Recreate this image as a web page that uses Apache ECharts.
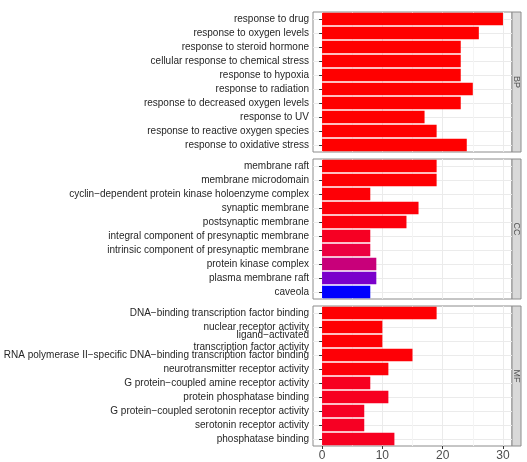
<!DOCTYPE html>
<html lang="en">
<head>
    <meta charset="UTF-8">
    <title>GO enrichment</title>
    <script src="https://cdn.jsdelivr.net/npm/echarts@6/dist/echarts.min.js"></script>
    <style>
        html, body { margin: 0; padding: 0; background: #fff; }
        #chart { width: 527px; height: 462px; }
    </style>
</head>
<body>
<div id="chart"></div>

<script type="text/javascript">
    // BP
    var bpTerms = ['response to drug', 'response to oxygen levels', 'response to steroid hormone',
        'cellular response to chemical stress', 'response to hypoxia', 'response to radiation',
        'response to decreased oxygen levels', 'response to UV', 'response to reactive oxygen species',
        'response to oxidative stress'];
    var bpCounts = [30, 26, 23, 23, 23, 25, 23, 17, 19, 24];
    var bpPadj = [0.00001, 0.00001, 0.00001, 0.00001, 0.00001, 0.00001, 0.00001, 0.00001, 0.00001, 0.00001];

    // CC
    var ccTerms = ['membrane raft', 'membrane microdomain', 'cyclin\u2212dependent protein kinase holoenzyme complex',
        'synaptic membrane', 'postsynaptic membrane', 'integral component of presynaptic membrane',
        'intrinsic component of presynaptic membrane', 'protein kinase complex', 'plasma membrane raft', 'caveola'];
    var ccCounts = [19, 19, 8, 16, 14, 8, 8, 9, 9, 8];
    var ccPadj = [0.0001, 0.0001, 0.0002, 0.0003, 0.0004, 0.0012, 0.0022, 0.004, 0.0061, 0.008];

    // MF
    var mfTerms = ['DNA\u2212binding transcription factor binding', 'nuclear receptor activity',
        'ligand\u2212activated\ntranscription factor activity',
        'RNA polymerase II\u2212specific DNA\u2212binding transcription factor binding',
        'neurotransmitter receptor activity', 'G protein\u2212coupled amine receptor activity',
        'protein phosphatase binding', 'G protein\u2212coupled serotonin receptor activity',
        'serotonin receptor activity', 'phosphatase binding'];
    var mfCounts = [19, 10, 10, 15, 11, 8, 11, 7, 7, 12];
    var mfPadj = [0.0001, 0.0001, 0.0001, 0.0002, 0.0003, 0.0011, 0.0011, 0.0012, 0.0012, 0.0011];

    var xTicks = [0, 10, 20, 30];
    var stripLabels = ['BP', 'CC', 'MF'];

    var FONT = '"Liberation Sans", Arial, sans-serif';
    var panelLeft = 313, panelWidth = 199, panelHeight = 140;
    var panelTops = [12, 159, 306];

    var panels = [
        {terms: bpTerms, counts: bpCounts, padj: bpPadj},
        {terms: ccTerms, counts: ccCounts, padj: ccPadj},
        {terms: mfTerms, counts: mfCounts, padj: mfPadj}
    ];

    var grids = [], xAxes = [], yAxes = [], series = [], graphics = [];

    panels.forEach(function (p, i) {
        var last = i === panels.length - 1;
        grids.push({
            left: panelLeft, top: panelTops[i], width: panelWidth, height: panelHeight,
            show: true, backgroundColor: '#fff', borderColor: '#8c8c8c', borderWidth: 1,
            outerBoundsMode: 'none', containLabel: false
        });
        xAxes.push({
            type: 'value', gridIndex: i, min: -1.5, max: 31.5,
            splitNumber: 3, minInterval: 10, maxInterval: 10,
            axisLine: {show: false},
            axisTick: {show: last, length: 3, customValues: xTicks, lineStyle: {color: '#333'}},
            axisLabel: {
                show: last, fontSize: 12, color: '#4d4d4d', fontFamily: FONT, margin: 4,
                customValues: xTicks
            },
            splitLine: {show: true, lineStyle: {color: '#ebebeb', width: 1}},
            minorTick: {show: false, splitNumber: 2},
            minorSplitLine: {show: true, lineStyle: {color: '#f4f4f4', width: 1}}
        });
        yAxes.push({
            type: 'category', gridIndex: i, data: p.terms, inverse: true,
            axisLine: {show: false},
            axisTick: {show: true, alignWithLabel: true, length: 3, lineStyle: {color: '#333'}},
            axisLabel: {interval: 0, fontSize: 10, color: '#262626', fontFamily: FONT, margin: 4, lineHeight: 12},
            splitLine: {show: true, alignWithLabel: true, lineStyle: {color: '#ebebeb', width: 1}}
        });
        series.push({
            type: 'bar', xAxisIndex: i, yAxisIndex: i,
            barCategoryGap: '10%',
            encode: {x: 0, y: 1},
            data: p.terms.map(function (t, k) { return [p.counts[k], t, p.padj[k]]; })
        });

        // facet strip on the right
        graphics.push({
            type: 'rect',
            shape: {x: panelLeft + panelWidth, y: panelTops[i], width: 9, height: panelHeight},
            style: {fill: '#d9d9d9', stroke: '#8c8c8c', lineWidth: 1}
        });
        graphics.push({
            type: 'text',
            x: panelLeft + panelWidth + 4.5, y: panelTops[i] + panelHeight / 2,
            rotation: -Math.PI / 2,
            style: {text: stripLabels[i], fontSize: 9, fill: '#555', fontFamily: FONT,
                align: 'center', verticalAlign: 'middle'}
        });
    });

    var option = {
        backgroundColor: '#fff',
        animation: false,
        grid: grids,
        xAxis: xAxes,
        yAxis: yAxes,
        visualMap: {
            type: 'continuous', show: false, min: 0, max: 0.008, dimension: 2,
            seriesIndex: [0, 1, 2],
            inRange: {color: ['#ff0000', '#f0003a', '#c8007a', '#8000c8', '#0000ff']}
        },
        series: series,
        graphic: graphics
    };

    var myChart = echarts.init(document.getElementById('chart'), null, {renderer: 'canvas'});
    myChart.setOption(option);
</script>
</body>
</html>
